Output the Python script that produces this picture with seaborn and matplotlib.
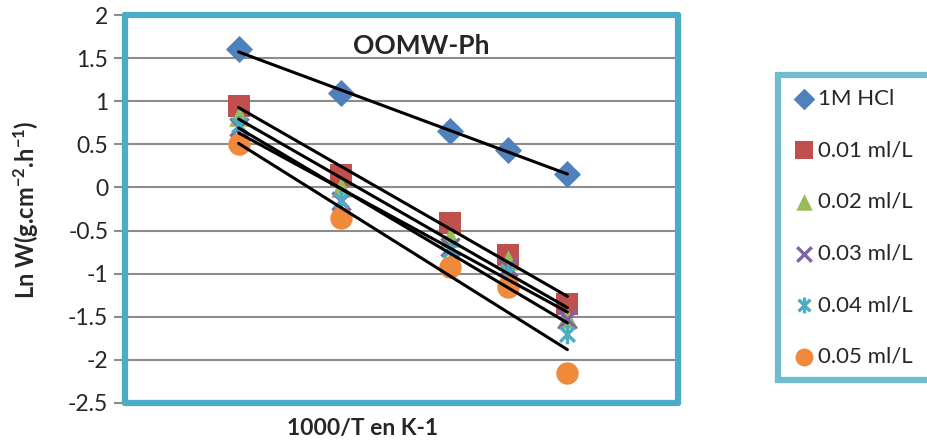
import numpy as np
import pandas as pd
import matplotlib
matplotlib.use("Agg")
import matplotlib.pyplot as plt
from matplotlib.path import Path
import seaborn as sns

# ---- data ----
x_inv_T = [2.913, 3.015, 3.123, 3.181, 3.240]
series_names = ["1M HCl", "0.01 ml/L", "0.02 ml/L", "0.03 ml/L", "0.04 ml/L", "0.05 ml/L"]
hcl_1m = [1.60, 1.09, 0.65, 0.43, 0.16]
c_001 = [0.95, 0.15, -0.41, -0.78, -1.35]
c_002 = [0.83, 0.00, -0.58, -0.84, -1.51]
c_003 = [0.70, -0.16, -0.69, -0.92, -1.53]
c_004 = [0.73, -0.14, -0.72, -0.99, -1.70]
c_005 = [0.50, -0.35, -0.92, -1.16, -2.15]
y_ticks = [2, 1.5, 1, 0.5, 0, -0.5, -1, -1.5, -2, -2.5]

values = [hcl_1m, c_001, c_002, c_003, c_004, c_005]
df = pd.DataFrame({
    "x": np.tile(x_inv_T, len(series_names)),
    "y": np.concatenate(values),
    "series": np.repeat(series_names, len(x_inv_T)),
})

colors = ["#4F81BD", "#C0504D", "#9BBB59", "#8064A2", "#4BACC6", "#F08A3A"]
asterisk = Path([(0, -1), (0, 1), (-0.75, -0.75), (0.75, 0.75), (-0.75, 0.75), (0.75, -0.75)],
                [Path.MOVETO, Path.LINETO, Path.MOVETO, Path.LINETO, Path.MOVETO, Path.LINETO])
markers = ["D", "s", "^", "x", asterisk, "o"]
sizes = [190, 260, 220, 170, 200, 260]

sns.set_style("white")
plt.rcParams["font.family"] = ["Lato", "DejaVu Sans"]
plt.rcParams["axes.unicode_minus"] = False
plt.rcParams["mathtext.fontset"] = "custom"
plt.rcParams["mathtext.rm"] = "Lato:bold"
plt.rcParams["mathtext.default"] = "rm"

fig = plt.figure(figsize=(9.28, 4.47), dpi=100)
ax = fig.add_axes([125 / 928, 1 - 403 / 447, (678 - 125) / 928, (403 - 15) / 447])

frame_c = "#4BACC6"

for yv in y_ticks:
    ax.axhline(yv, color="#8C8C8C", lw=1.5, zorder=0)

for name, col, mk, sz in zip(series_names, colors, markers, sizes):
    sub = df[df["series"] == name]
    lw = 2.4 if (mk == "x" or mk is asterisk) else 0
    sns.scatterplot(data=sub, x="x", y="y", ax=ax, color=col, marker=mk, s=sz,
                    linewidth=lw, edgecolor=col if lw == 0 else None, label=name, zorder=3)
for name in series_names:
    sub = df[df["series"] == name]
    sns.regplot(data=sub, x="x", y="y", ax=ax, scatter=False, ci=None, truncate=True,
                line_kws=dict(color="black", lw=2.2, zorder=4))

ax.set_xlim(2.8, 3.35)
ax.set_ylim(-2.5, 2)
ax.set_yticks(y_ticks)
ax.set_yticklabels([f"{v:g}" for v in y_ticks], fontsize=16.5)
ax.set_xticks([])
ax.tick_params(axis="y", direction="out", length=8, width=1.5, color="#8C8C8C", pad=4, left=True)
for s in ax.spines.values():
    s.set_color(frame_c)
    s.set_linewidth(4.5)
    s.set_capstyle("round")

ax.set_xlabel("")
ax.set_ylabel("")
fig.text(363 / 928, 1 - 428 / 447, "1000/T en K-1", fontsize=16.5, fontweight="bold",
         ha="center", va="center")
fig.text(26 / 928, 1 - 210 / 447, r"Ln W(g.cm$^{-2}$.h$^{-1}$)", fontsize=17, fontweight="bold",
         rotation=90, ha="center", va="center")
ax.text(0.536, 0.92, "OOMW-Ph", transform=ax.transAxes, fontsize=19, fontweight="bold",
        ha="center", va="center")

handles, labels = ax.get_legend_handles_labels()
leg = ax.legend(handles[:6], labels[:6], loc="upper left", mode="expand",
                bbox_to_anchor=(778 / 928, 1 - 382 / 447, 0.25, (382 - 75) / 447),
                bbox_transform=fig.transFigure, borderaxespad=0,
                fontsize=16, labelspacing=1.42, handletextpad=0.1, handlelength=1.1,
                borderpad=0.62, frameon=True, fancybox=False, markerscale=0.8)
fr = leg.get_frame()
fr.set_edgecolor(frame_c)
fr.set_linewidth(4.5)

fig.savefig("out.png", dpi=100)
